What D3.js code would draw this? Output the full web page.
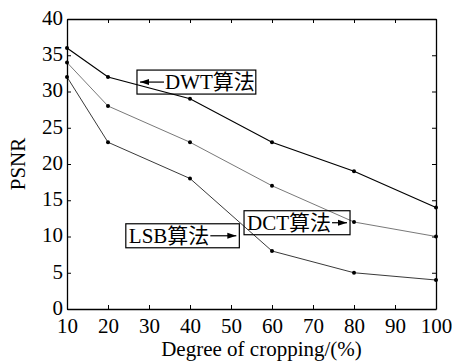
<!DOCTYPE html>
<html>
<head>
<meta charset="utf-8">
<script src="https://cdn.jsdelivr.net/npm/d3@7"></script>
<style>
  body { margin: 0; background: #fff; }
</style>
</head>
<body>
<div id="chart"></div>
<script>
// datos
const cropping = [10, 20, 40, 60, 80, 100];
const dwt = [36, 32, 29, 23, 19, 14];
const dct = [34, 28, 23, 17, 12, 10];
const lsb = [32, 23, 18, 8, 5, 4];
const xTicks = [10, 20, 30, 40, 50, 60, 70, 80, 90, 100];
const yTicks = [0, 5, 10, 15, 20, 25, 30, 35, 40];

// etiquetas: punta de la flecha en coordenadas de datos
const labels = [
    { text: "DWT算法", x: 27.8, y: 31.3, side: "left", flecha: 24 },
    { text: "LSB算法", x: 51.3, y: 10.1, side: "right", flecha: 28 },
    { text: "DCT算法", x: 78.3, y: 11.9, side: "right", flecha: 17 }
];

const fuente = '"Liberation Serif", "Times New Roman", "Noto Sans CJK SC", serif';

const width = 452, height = 361;
const margin = { top: 19, right: 16, bottom: 52, left: 67 };

const svg = d3.select("#chart").append("svg")
    .attr("width", width)
    .attr("height", height)
    .attr("font-family", fuente);

const x = d3.scaleLinear().domain([10, 100]).range([margin.left, width - margin.right]);
const y = d3.scaleLinear().domain([0, 40]).range([height - margin.bottom, margin.top]);

// ejes con marcas hacia dentro
svg.append("g")
    .attr("transform", `translate(0,${y(0)})`)
    .call(d3.axisBottom(x).tickValues(xTicks).tickSizeInner(-4).tickSizeOuter(0).tickPadding(9))
    .call(g => g.attr("font-family", fuente).attr("font-size", 21));

svg.append("g")
    .attr("transform", `translate(0,${y(40)})`)
    .call(d3.axisTop(x).tickValues(xTicks).tickSizeInner(-4).tickSizeOuter(0).tickFormat(""));

svg.append("g")
    .attr("transform", `translate(${x(10)},0)`)
    .call(d3.axisLeft(y).tickValues(yTicks).tickSizeInner(-4).tickSizeOuter(0).tickPadding(4))
    .call(g => g.attr("font-family", fuente).attr("font-size", 21))
    .call(g => g.selectAll("text").attr("dy", "0.25em"));

svg.append("g")
    .attr("transform", `translate(${x(100)},0)`)
    .call(d3.axisRight(y).tickValues(yTicks).tickSizeInner(-4).tickSizeOuter(0).tickFormat(""));

svg.selectAll(".domain").attr("stroke", "#000").attr("stroke-width", 1.3);
svg.selectAll(".tick line").attr("stroke", "#000");

// titulos de ejes
svg.append("text")
    .attr("x", (x(10) + x(100)) / 2 + 10)
    .attr("y", height - 5)
    .attr("text-anchor", "middle")
    .style("font-size", "21px")
    .text("Degree of cropping/(%)");

svg.append("text")
    .attr("transform", `translate(25,${(y(0) + y(40)) / 2}) rotate(-90)`)
    .attr("text-anchor", "middle")
    .style("font-size", "21px")
    .text("PSNR");

// series
const series = [
    { values: dwt, color: "#000", w: 1.2 },
    { values: dct, color: "#555", w: 0.8 },
    { values: lsb, color: "#222", w: 0.9 }
];

const line = d3.line().x(d => x(d[0])).y(d => y(d[1]));

series.forEach(s => {
    const pts = cropping.map((c, i) => [c, s.values[i]]);
    svg.append("path")
        .datum(pts)
        .attr("fill", "none")
        .attr("stroke", s.color)
        .attr("stroke-width", s.w)
        .attr("d", line);
    svg.selectAll(null)
        .data(pts)
        .enter()
        .append("circle")
        .attr("cx", d => x(d[0]))
        .attr("cy", d => y(d[1]))
        .attr("r", 2)
        .attr("fill", "#000");
});

// anotaciones con flecha y recuadro
labels.forEach(l => {
    const tx = x(l.x), ty = y(l.y);
    const g = svg.append("g");
    const t = g.append("text")
        .style("font-size", "21px")
        .attr("y", ty + 7)
        .text(l.text);
    const tw = t.node().getComputedTextLength();
    const arrowLen = l.flecha;
    const bw = arrowLen + tw + 5;
    let bx, textX, ax1, ax2;
    if (l.side === "left") {
        bx = tx - 3;
        ax1 = tx; ax2 = tx + arrowLen;
        textX = ax2 + 1;
    } else {
        bx = tx - bw + 3;
        textX = bx + 3;
        ax1 = textX + tw + 1; ax2 = tx;
    }
    t.attr("x", textX);
    g.insert("rect", "text")
        .attr("x", bx)
        .attr("y", ty - 12)
        .attr("width", bw)
        .attr("height", 24)
        .attr("fill", "none")
        .attr("stroke", "#000")
        .attr("stroke-width", 1.2);
    g.append("line")
        .attr("x1", ax1).attr("y1", ty)
        .attr("x2", ax2).attr("y2", ty)
        .attr("stroke", "#000")
        .attr("stroke-width", 1.2);
    const dir = l.side === "left" ? 1 : -1;
    g.append("path")
        .attr("d", `M${tx},${ty} L${tx + dir * 9},${ty - 3} L${tx + dir * 9},${ty + 3} Z`)
        .attr("fill", "#000");
});
</script>
</body>
</html>
